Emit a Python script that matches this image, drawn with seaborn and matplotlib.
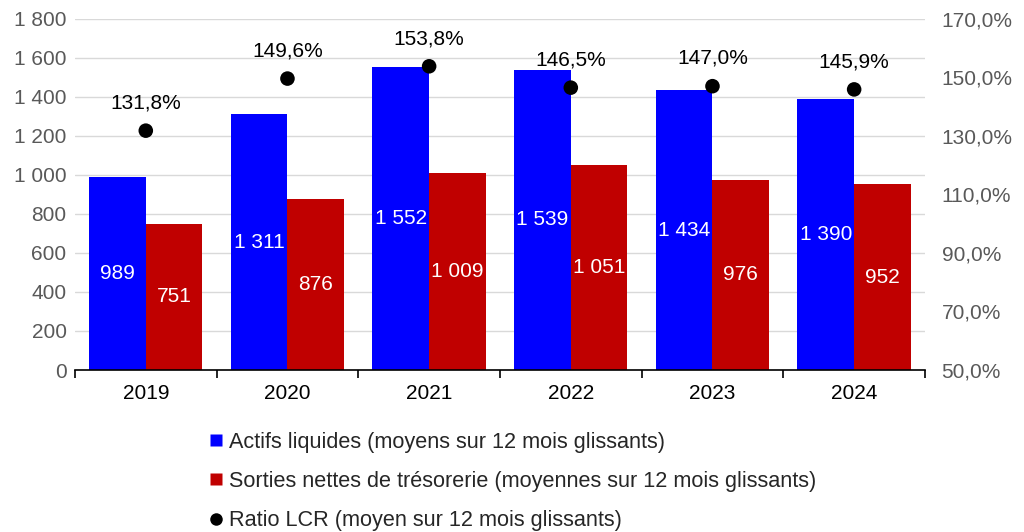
import numpy as np
import pandas as pd
import matplotlib
matplotlib.use("Agg")
import matplotlib.pyplot as plt
import seaborn as sns
from matplotlib.lines import Line2D

# Data
years = ["2019", "2020", "2021", "2022", "2023", "2024"]
actifs = [989, 1311, 1552, 1539, 1434, 1390]
sorties = [751, 876, 1009, 1051, 976, 952]
ratio_lcr = [131.8, 149.6, 153.8, 146.5, 147.0, 145.9]

lbl_actifs = "Actifs liquides (moyens sur 12 mois glissants)"
lbl_sorties = "Sorties nettes de trésorerie (moyennes sur 12 mois glissants)"
lbl_ratio = "Ratio LCR (moyen sur 12 mois glissants)"

BLUE = "#0000FF"
RED = "#C00000"
GREY = "#595959"
FS = 15


def fmt_thousands(v):
    return "{:,.0f}".format(v).replace(",", " ")


def fmt_pct(v):
    return "{:.1f}%".format(v).replace(".", ",")


# Long format for seaborn
df = pd.DataFrame({
    "year": years * 2,
    "value": actifs + sorties,
    "serie": [lbl_actifs] * len(years) + [lbl_sorties] * len(years),
})
df_ratio = pd.DataFrame({"year": years, "ratio": ratio_lcr})

sns.set_theme(style="white")
plt.rcParams["font.family"] = ["Liberation Sans", "DejaVu Sans"]

fig = plt.figure(figsize=(10.24, 5.32), dpi=100)
ax = fig.add_axes([0.0732, 0.3045, 0.8301, 0.66])

sns.barplot(data=df, x="year", y="value", hue="serie",
            palette=[BLUE, RED], width=0.8, edgecolor="none",
            saturation=1, legend=False, ax=ax)

# Value labels in the middle of the bars
for cont in ax.containers:
    ax.bar_label(cont, labels=[fmt_thousands(v) for v in cont.datavalues],
                 label_type="center", color="white", fontsize=FS)

ax.set_ylim(0, 1800)
ax.set_yticks(np.arange(0, 1801, 200))
ax.set_yticklabels([fmt_thousands(v) for v in np.arange(0, 1801, 200)],
                   color=GREY, fontsize=FS)
ax.yaxis.grid(True, color="#D9D9D9", linewidth=1)
ax.set_axisbelow(True)
ax.set_xlabel("")
ax.set_ylabel("")

# x axis: black line with ticks between categories
ax.set_xticks(np.arange(len(years)))
ax.set_xticklabels(years, fontsize=FS, color="black")
ax.set_xticks(np.arange(-0.5, len(years)), minor=True)
ax.tick_params(axis="x", which="major", bottom=True, length=0, pad=10)
ax.tick_params(axis="x", which="minor", bottom=True, length=6, width=1.2,
               color="black", direction="out")
ax.tick_params(axis="y", length=0, pad=6)
for s in ["top", "right", "left"]:
    ax.spines[s].set_visible(False)
ax.spines["bottom"].set_color("black")
ax.spines["bottom"].set_linewidth(1.2)

# Secondary axis for the LCR ratio
ax2 = ax.twinx()
sns.scatterplot(data=df_ratio, x="year", y="ratio", color="black",
                s=110, edgecolor="none", legend=False, ax=ax2, zorder=5)
for i, v in enumerate(ratio_lcr):
    ax2.annotate(fmt_pct(v), (i, v), xytext=(0, 20), textcoords="offset points",
                 ha="center", va="center", fontsize=FS, color="black")
ax2.set_ylim(50, 170)
ax2.set_yticks(np.arange(50, 171, 20))
ax2.set_yticklabels([fmt_pct(v) for v in np.arange(50, 171, 20)],
                    color=GREY, fontsize=FS)
ax2.tick_params(axis="y", length=0, pad=12)
ax2.set_ylabel("")
for s in ["top", "right", "left", "bottom"]:
    ax2.spines[s].set_visible(False)
ax.set_xlim(-0.5, len(years) - 0.5)

# Legend below the plot
handles = [
    Line2D([0], [0], marker="s", color="none", markerfacecolor=BLUE,
           markeredgecolor="none", markersize=9, label=lbl_actifs),
    Line2D([0], [0], marker="s", color="none", markerfacecolor=RED,
           markeredgecolor="none", markersize=9, label=lbl_sorties),
    Line2D([0], [0], marker="o", color="none", markerfacecolor="black",
           markeredgecolor="none", markersize=9, label=lbl_ratio),
]
fig.legend(handles=handles, loc="lower left", bbox_to_anchor=(0.19, -0.027),
           frameon=False, fontsize=15.6, handlelength=0.6, handletextpad=0.3,
           labelspacing=0.84, borderpad=0.2)

fig.savefig("out.png", dpi=100)
